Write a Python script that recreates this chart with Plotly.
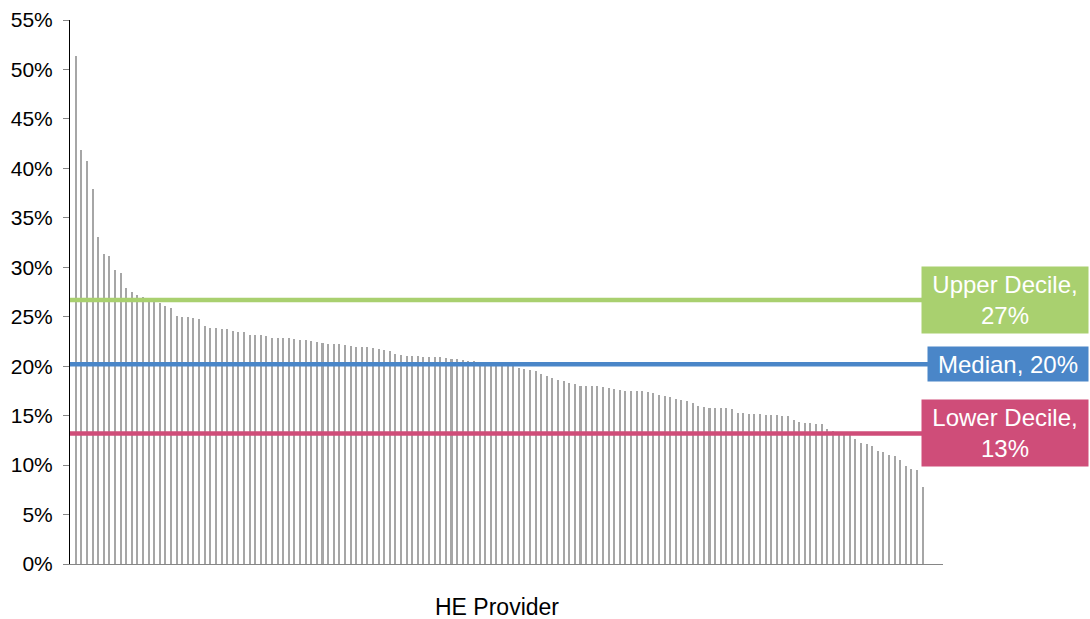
import plotly.graph_objects as go

# ---- data ----
rates = [
    51.4, 41.9, 40.7, 37.9, 33.1, 31.3, 31.1, 29.7, 29.4, 27.9, 27.5, 27.2, 27.0, 26.8, 26.5, 26.4,
    26.1, 25.9, 25.1, 25.0, 25.0, 24.9, 24.8, 24.1, 23.9, 23.9, 23.8, 23.8, 23.6, 23.5, 23.5, 23.2, 23.2,
    23.15, 23.05, 22.9, 22.9, 22.85, 22.8, 22.75, 22.6, 22.6, 22.55, 22.4, 22.3, 22.25, 22.25, 22.2,
    22.1, 22.05, 21.9, 21.9, 21.9,
    21.8, 21.7, 21.6, 21.5, 21.2, 21.15, 21.05, 21.0, 21.0, 20.9, 20.9, 20.9, 20.9, 20.85, 20.75, 20.7,
    20.6, 20.5, 20.5, 20.4, 20.3, 20.3, 20.2, 20.2, 20.1, 20.0,
    19.8, 19.7, 19.65, 19.55, 19.2, 19.0, 18.8, 18.6, 18.5, 18.3, 18.2, 18.0, 18.0,
    17.95, 17.95, 17.9, 17.75, 17.65, 17.6, 17.5, 17.5, 17.45, 17.45, 17.4, 17.3, 17.1, 17.0, 16.85,
    16.7, 16.55, 16.45, 16.3, 16.0,
    15.9, 15.8, 15.8, 15.8, 15.75, 15.65, 15.3, 15.25, 15.2, 15.15, 15.15, 15.1, 15.1, 15.05, 14.95,
    14.95, 14.6, 14.35, 14.3,
    14.25, 14.2, 14.15, 13.65, 13.4, 13.3, 13.2, 13.1, 12.6, 12.2, 12.1, 11.9, 11.4, 11.35, 11.05,
    10.9, 10.5, 9.9, 9.6, 9.5, 7.8,
]
providers = list(range(len(rates)))

x_title = "HE Provider"
ref_names = ["Upper Decile,<br>27%", "Median, 20%", "Lower Decile,<br>13%"]
ref_values = [26.7, 20.2, 13.2]
ref_colors = ["#A9D06F", "#4A86C8", "#CF4D79"]
ref_line_end = [150.9, 151.95, 150.9]
ref_box_w = [160, 154, 160]
ref_box_h = [60, 28, 60]
ref_box_cx = [1005, 1008, 1005]

y_ticks = [0, 5, 10, 15, 20, 25, 30, 35, 40, 45, 50, 55]
x_range = [-1.016, 154.63]

FONT = "Liberation Sans, Arial, sans-serif"

fig = go.Figure()
fig.add_trace(go.Bar(
    x=providers, y=rates, width=0.36,
    marker=dict(color="#A6A6A6", line=dict(width=0)),
    showlegend=False, hoverinfo="y",
))

for name, val, col, xend in zip(ref_names, ref_values, ref_colors, ref_line_end):
    fig.add_trace(go.Scatter(
        x=[x_range[0], xend], y=[val, val], mode="lines",
        line=dict(color=col, width=4.5), showlegend=False, hoverinfo="skip",
        cliponaxis=False,
    ))

for name, val, col, w, h, cx in zip(ref_names, ref_values, ref_colors, ref_box_w, ref_box_h, ref_box_cx):
    fig.add_annotation(
        xref="paper", yref="y", x=(cx - 70) / 873, y=val,
        xanchor="center", yanchor="middle", text=name, showarrow=False,
        bgcolor=col, width=w, height=h, borderpad=3,
        font=dict(family=FONT, size=24, color="white"), align="center", valign="middle",
    )

# x-axis title (placed slightly left of centre, as in the original)
fig.add_annotation(
    xref="paper", yref="paper", x=(496.5 - 70) / 873, y=(564 - 607) / 544,
    xanchor="center", yanchor="middle", text=x_title, showarrow=False,
    font=dict(family=FONT, size=23, color="#000000"),
)

fig.update_layout(
    width=1090, height=619,
    margin=dict(l=70, r=147, t=20, b=55, autoexpand=False),
    paper_bgcolor="white", plot_bgcolor="white",
    bargap=0,
    font=dict(family=FONT, size=21, color="#000000"),
    xaxis=dict(
        range=x_range, showticklabels=False, ticks="", showgrid=False, zeroline=False,
        showline=True, linecolor="#868686", linewidth=1,
    ),
    yaxis=dict(
        range=[0, 55], tickvals=y_ticks, ticktext=[f"{v}%" for v in y_ticks],
        ticks="outside", ticklen=6, tickcolor="#868686", tickwidth=1,
        showgrid=False, zeroline=False, showline=True, linecolor="#000000", linewidth=1,
        tickfont=dict(family=FONT, size=21, color="#000000"), ticklabelstandoff=6,
        automargin=False,
    ),
)

fig.write_html(
    "out.html",
    config={"displayModeBar": False},
    post_script="document.body.style.margin='0';document.body.style.padding='0';",
)
